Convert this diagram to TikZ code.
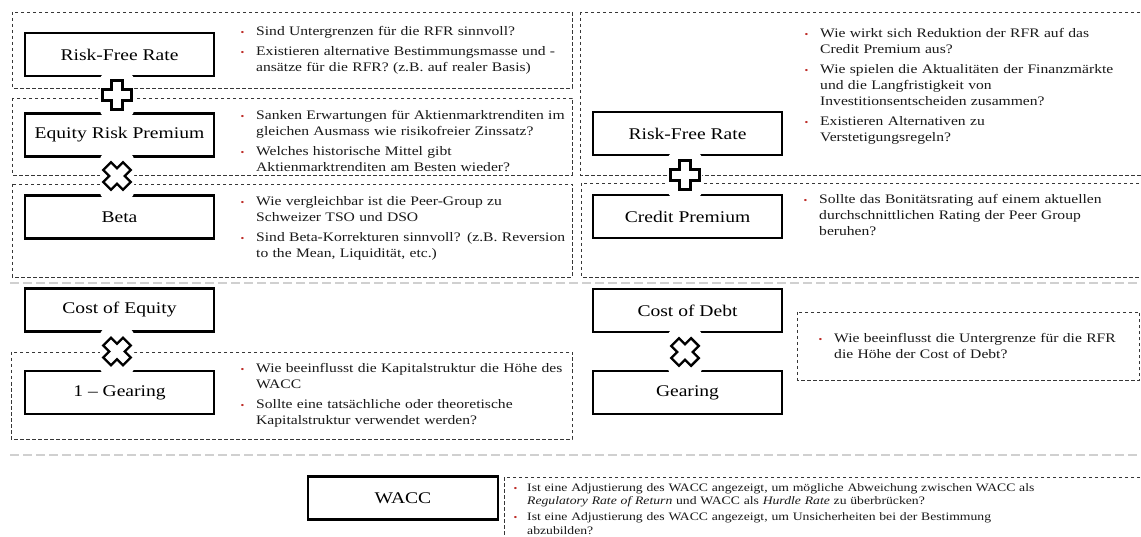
\documentclass[tikz,border=0pt]{standalone}
\usepackage{fontspec}
\setmainfont{Liberation Serif}[FakeStretch=1.2]
\definecolor{bred}{RGB}{190,45,40}
\definecolor{dgray}{RGB}{55,55,55}
\definecolor{sepgray}{RGB}{208,208,208}
\newlength{\bitind}
\setlength{\bitind}{16pt}
\newcommand{\bit}[1]{\par\hangindent=\bitind\hangafter=1\noindent\hbox to \bitind{\hskip0.5pt\textcolor{bred}{\fontsize{9}{9}\selectfont\textbullet}\hss}#1\par}
\tikzset{
  term/.style={draw=black, line width=2.2pt, fill=white, minimum width=189pt, minimum height=43pt, inner sep=0pt, font=\fontsize{16.3}{18}\selectfont},
  dbox/.style={draw=dgray, line width=0.8pt, dash pattern=on 3.5pt off 2.5pt},
  sepline/.style={draw=sepgray, line width=2pt, dash pattern=on 9pt off 4pt},
  qtext/.style={anchor=north west, inner sep=0pt, text width=#1, align=left, text=black!90, font={\fontsize{13}{16}\selectfont\setlength{\parskip}{4pt}}},
  qsmall/.style={font={\fontsize{11.4}{13.6}\selectfont\setlength{\parskip}{2.4pt}\setlength{\bitind}{14pt}}},
  patch/.style={fill=white, rounded corners=7pt, minimum width=34pt, minimum height=#1, inner sep=0pt},
  plusicon/.pic={\draw[line width=2.4pt, fill=white] (-5.5,-14.5) -- (5.5,-14.5) -- (5.5,-5.5) -- (14.5,-5.5) -- (14.5,5.5) -- (5.5,5.5) -- (5.5,14.5) -- (-5.5,14.5) -- (-5.5,5.5) -- (-14.5,5.5) -- (-14.5,-5.5) -- (-5.5,-5.5) -- cycle;},
  crossicon/.pic={\draw[line width=2.4pt, fill=white, rotate=45] (-5.5,-14) -- (5.5,-14) -- (5.5,-5.5) -- (14,-5.5) -- (14,5.5) -- (5.5,5.5) -- (5.5,14) -- (-5.5,14) -- (-5.5,5.5) -- (-14,5.5) -- (-14,-5.5) -- (-5.5,-5.5) -- cycle;},
}
\begin{document}
\begin{tikzpicture}[x=1pt,y=-1pt]
\useasboundingbox (0,0) rectangle (1141,537);
\fill[white] (0,0) rectangle (1141,537);

% dashed frames
\draw[dbox] (12,12) rectangle (572,88);
\draw[dbox] (12,98) rectangle (572,175);
\draw[dbox] (12,184) rectangle (572,277);
\draw[dbox] (580,12) rectangle (1150,175);
\draw[dbox] (581,183) rectangle (1150,277);
\draw[dbox] (11,352) rectangle (572,439);
\draw[dbox] (797,312) rectangle (1139.5,380);
\draw[dbox] (504,477) rectangle (1150,545);

% separators
\draw[sepline] (10,283) -- (1141,283);
\draw[sepline] (10,455) -- (1141,455);

% term boxes
\node[term] (rfrL) at (119.5,54.5) {Risk-Free Rate};
\node[term] (erp) at (119.5,135) {Equity Risk Premium};
\node[term] (beta) at (119.5,217) {Beta};
\node[term] (coe) at (119.5,310) {Cost of Equity};
\node[term] (omg) at (119.5,392.5) {1 – Gearing};
\node[term] (rfrR) at (687.5,133.5) {Risk-Free Rate};
\node[term] (cp) at (687.5,216.5) {Credit Premium};
\node[term] (cod) at (687.5,310.5) {Cost of Debt};
\node[term] (gear) at (687.5,392.5) {Gearing};
\node[term, minimum width=190pt] (wacc) at (403,498) {WACC};

% operator patches and icons
\node[patch=44pt] (p1) at (117,95) {};
\node[patch=46pt] (p2) at (117,176) {};
\node[patch=46pt] (p3) at (685,175) {};
\node[patch=46pt] (p4) at (117,351.5) {};
\node[patch=46pt] (p5) at (685,352) {};
\pic (i1) at (p1) {plusicon};
\pic (i2) at (p2) {crossicon};
\pic (i3) at (p3) {plusicon};
\pic (i4) at (p4) {crossicon};
\pic (i5) at (p5) {crossicon};

% question texts
\node[qtext=340pt] (q1) at (240,15) {\bit{Sind Untergrenzen für die RFR sinnvoll?}\bit{Existieren alternative Bestimmungsmasse und -\newline ansätze für die RFR? (z.B. auf realer Basis)}};
\node[qtext=340pt] (q2) at (240,99.5) {\bit{Sanken Erwartungen für Aktienmarktrenditen im\newline gleichen Ausmass wie risikofreier Zinssatz?}\bit{Welches historische Mittel gibt\newline Aktienmarktrenditen am Besten wieder?}};
\node[qtext=340pt] (q3) at (240,185) {\bit{Wie vergleichbar ist die Peer-Group zu\newline Schweizer TSO und DSO}\bit{Sind Beta-Korrekturen sinnvoll? (z.B. Reversion\newline to the Mean, Liquidität, etc.)}};
\node[qtext=330pt] (q4) at (804,17) {\bit{Wie wirkt sich Reduktion der RFR auf das\newline Credit Premium aus?}\bit{Wie spielen die Aktualitäten der Finanzmärkte\newline und die Langfristigkeit von\newline Investitionsentscheiden zusammen?}\bit{Existieren Alternativen zu\newline Verstetigungsregeln?}};
\node[qtext=330pt] (q5) at (803,183) {\bit{Sollte das Bonitätsrating auf einem aktuellen\newline durchschnittlichen Rating der Peer Group\newline beruhen?}};
\node[qtext=340pt] (q6) at (240,352.5) {\bit{Wie beeinflusst die Kapitalstruktur die Höhe des\newline WACC}\bit{Sollte eine tatsächliche oder theoretische\newline Kapitalstruktur verwendet werden?}};
\node[qtext=320pt] (q7) at (818,322.5) {\bit{Wie beeinflusst die Untergrenze für die RFR\newline die Höhe der Cost of Debt?}};
\node[qtext=630pt, qsmall] (q8) at (513,475) {\bit{Ist eine Adjustierung des WACC angezeigt, um mögliche Abweichung zwischen WACC als\newline \textit{Regulatory Rate of Return} und WACC als \textit{Hurdle Rate} zu überbrücken?}\bit{Ist eine Adjustierung des WACC angezeigt, um Unsicherheiten bei der Bestimmung\newline abzubilden?}};
\end{tikzpicture}
\end{document}
